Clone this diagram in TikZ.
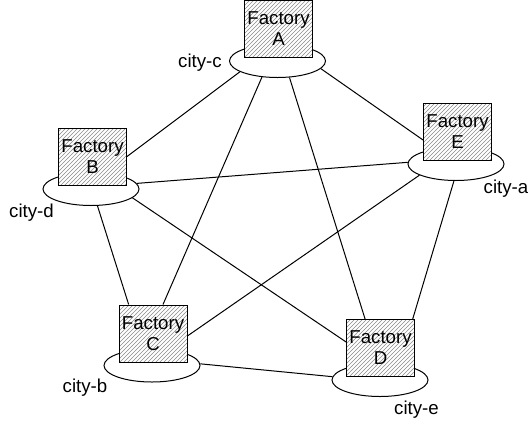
\documentclass[tikz,border=0pt]{standalone}
\usepackage{fontspec}
\setmainfont{Liberation Sans}
\usetikzlibrary{patterns}
\usetikzlibrary{shapes.geometric}

\begin{document}
\begin{tikzpicture}[x=0.75pt, y=-0.75pt, line width=0.75pt,
    city/.style={draw, ellipse, fill=white, minimum width=72pt, minimum height=24.75pt, inner sep=0pt},
    factory/.style={draw, rectangle, preaction={fill=white}, pattern=north east lines, pattern color=black!45,
        minimum width=51pt, minimum height=42.75pt, inner sep=0pt, align=center, font=\fontsize{14}{15.75}\selectfont},
    cityname/.style={font=\fontsize{14}{15.75}\selectfont, inner sep=0pt}]
    \useasboundingbox (0,0) rectangle (528,426);

    % Cities (ellipses)
    \node[city] (cA) at (277.5, 61) {};
    \node[city] (cB) at (91, 189) {};
    \node[city] (cE) at (456, 164) {};
    \node[city] (cC) at (152, 365.5) {};
    \node[city] (cD) at (380, 380) {};

    % Factories sitting on the cities
    \node[factory] (fA) at (278.5, 29) {Factory\\A};
    \node[factory] (fB) at (92.5, 156.5) {Factory\\B};
    \node[factory] (fE) at (457.5, 132) {Factory\\E};
    \node[factory] (fC) at (153, 333.5) {Factory\\C};
    \node[factory] (fD) at (380.5, 348) {Factory\\D};

    % City names
    \node[cityname] (nc) at (200, 63) {city-c};
    \node[cityname] (nd) at (31.5, 213) {city-d};
    \node[cityname] (na) at (506, 189) {city-a};
    \node[cityname] (nb) at (85, 388) {city-b};
    \node[cityname] (ne) at (416.5, 410) {city-e};

    % Roads
    \draw (cA.196) -- (fB.east);
    \draw (cA.226) -- (fC.71);
    \draw (cA.306) -- (fD.118);
    \draw (cA.350) -- (fE.193);
    \draw (cB.7) -- (cE.178);
    \draw (cB.348) -- (fD.170);
    \draw (cB.291) -- (fC.130);
    \draw (cE.197) -- (fC.356);
    \draw (cE.263) -- (fD.42);
    \draw (cC.2) -- (cD.176);
\end{tikzpicture}
\end{document}
